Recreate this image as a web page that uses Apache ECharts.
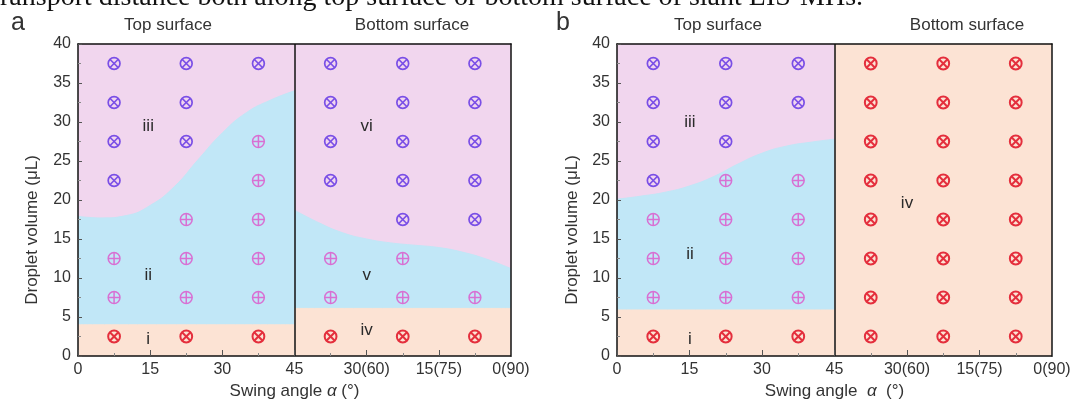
<!DOCTYPE html>
<html>
<head>
<meta charset="utf-8">
<script src="https://cdn.jsdelivr.net/npm/echarts@6/dist/echarts.min.js"></script>
<style>
  html, body { margin: 0; padding: 0; background: #ffffff; }
  #chart { width: 1080px; height: 405px; }
</style>
</head>
<body>
<div id="chart"></div>
<script>
// ---- axis labels ----
const xTickLabels = ['0', '15', '30', '45', '30(60)', '15(75)', '0(90)'];
const sideSplit = 45;          // swing angle where the top surface hands over to the bottom surface
const volumeMax = 40;

// ---- panel a: regime boundaries ----
const aTopUpperBoundary = [[0, 17.9], [5, 17.7], [10, 18.0], [15, 19.3], [20, 21.7],
                           [25, 25.2], [30, 28.6], [35, 31.2], [40, 32.8], [45, 34.0]];
const aTopLowerLevel = 4.0;
const aBottomUpperBoundary = [[45, 18.7], [50, 17.1], [55, 15.8], [60, 15.0], [65, 14.5],
                              [70, 14.2], [75, 13.9], [80, 13.3], [85, 12.4], [90, 11.2]];
const aBottomLowerLevel = 6.1;

// ---- panel a: observations ----
const aBlueCross = [[7.5, 37.5], [7.5, 32.5], [7.5, 27.5], [7.5, 22.5],
                    [22.5, 37.5], [22.5, 32.5], [22.5, 27.5],
                    [37.5, 37.5],
                    [52.5, 37.5], [52.5, 32.5], [52.5, 27.5], [52.5, 22.5],
                    [67.5, 37.5], [67.5, 32.5], [67.5, 27.5], [67.5, 22.5], [67.5, 17.5],
                    [82.5, 37.5], [82.5, 32.5], [82.5, 27.5], [82.5, 22.5], [82.5, 17.5]];
const aPinkPlus = [[7.5, 12.5], [7.5, 7.5],
                   [22.5, 17.5], [22.5, 12.5], [22.5, 7.5],
                   [37.5, 27.5], [37.5, 22.5], [37.5, 17.5], [37.5, 12.5], [37.5, 7.5],
                   [52.5, 12.5], [52.5, 7.5],
                   [67.5, 12.5], [67.5, 7.5],
                   [82.5, 7.5]];
const aRedCross = [[7.5, 2.5], [22.5, 2.5], [37.5, 2.5], [52.5, 2.5], [67.5, 2.5], [82.5, 2.5]];
const aRegionNames = [[14.6, 29.4, 'iii'], [14.6, 10.3, 'ii'], [14.6, 2.2, 'i'],
                      [60, 29.4, 'vi'], [60, 10.3, 'v'], [60, 3.3, 'iv']];

// ---- panel b: regime boundaries ----
const bTopUpperBoundary = [[0, 20.1], [5, 20.5], [10, 21.0], [15, 21.8], [20, 23.0],
                           [25, 24.6], [30, 26.0], [35, 26.9], [40, 27.4], [45, 27.8]];
const bTopLowerLevel = 5.9;

// ---- panel b: observations ----
const bBlueCross = [[7.5, 37.5], [7.5, 32.5], [7.5, 27.5], [7.5, 22.5],
                    [22.5, 37.5], [22.5, 32.5], [22.5, 27.5],
                    [37.5, 37.5], [37.5, 32.5]];
const bPinkPlus = [[7.5, 17.5], [7.5, 12.5], [7.5, 7.5],
                   [22.5, 22.5], [22.5, 17.5], [22.5, 12.5], [22.5, 7.5],
                   [37.5, 22.5], [37.5, 17.5], [37.5, 12.5], [37.5, 7.5]];
const bRedCross = [[7.5, 2.5], [22.5, 2.5], [37.5, 2.5],
                   [52.5, 37.5], [52.5, 32.5], [52.5, 27.5], [52.5, 22.5], [52.5, 17.5], [52.5, 12.5], [52.5, 7.5], [52.5, 2.5],
                   [67.5, 37.5], [67.5, 32.5], [67.5, 27.5], [67.5, 22.5], [67.5, 17.5], [67.5, 12.5], [67.5, 7.5], [67.5, 2.5],
                   [82.5, 37.5], [82.5, 32.5], [82.5, 27.5], [82.5, 22.5], [82.5, 17.5], [82.5, 12.5], [82.5, 7.5], [82.5, 2.5]];
const bRegionNames = [[15.1, 30, 'iii'], [15.1, 13, 'ii'], [15.1, 2.2, 'i'], [60, 19.6, 'iv']];

// ---- styling ----
const FONT = '"Liberation Sans", Arial, sans-serif';
const PINK_BG = '#f1d6ee';
const BLUE_BG = '#c1e7f7';
const PEACH_BG = '#fce3d4';
const BLUE_MARK = '#7a4fe6';
const PINK_MARK = '#d870d3';
const RED_MARK = '#e42f3d';
const INK = '#2a2a2a';

const chart = echarts.init(document.getElementById('chart'), null, { renderer: 'canvas' });

// filled band from y = 0 up to a boundary line
function band(g, pts, color, z) {
  return {
    type: 'line', xAxisIndex: g * 2, yAxisIndex: g * 2,
    data: pts, symbol: 'none', smooth: 0.5,
    lineStyle: { width: 1, color: color },
    areaStyle: { color: color, opacity: 1, origin: 'start' },
    silent: true, animation: false, z: z
  };
}
function level(x0, x1, y) { return [[x0, y], [x1, y]]; }

// circled cross / circled plus markers
function markers(g, pts, color, kind, lw) {
  return {
    type: 'custom', xAxisIndex: g * 2, yAxisIndex: g * 2,
    data: pts, encode: { x: 0, y: 1 }, clip: false, silent: true, animation: false, z: 6,
    renderItem: function (params, api) {
      const p = api.coord([api.value(0), api.value(1)]);
      const r = 5.9;
      const d = kind === 'cross' ? r * 0.72 : r;
      const st = { stroke: color, lineWidth: lw, fill: 'none' };
      const lines = kind === 'cross'
        ? [[-d, -d, d, d], [-d, d, d, -d]]
        : [[-d, 0, d, 0], [0, -d, 0, d]];
      return {
        type: 'group', x: p[0], y: p[1],
        children: [{ type: 'circle', shape: { cx: 0, cy: 0, r: r }, style: st }].concat(
          lines.map(l => ({ type: 'line', shape: { x1: l[0], y1: l[1], x2: l[2], y2: l[3] }, style: st })))
      };
    }
  };
}

function regionNames(g, items) {
  return {
    type: 'custom', xAxisIndex: g * 2, yAxisIndex: g * 2,
    data: items.map(d => [d[0], d[1]]), encode: { x: 0, y: 1 }, clip: false, silent: true, animation: false, z: 7,
    renderItem: function (params, api) {
      const p = api.coord([api.value(0), api.value(1)]);
      return {
        type: 'text', x: p[0], y: p[1],
        style: { text: items[params.dataIndex][2], fill: INK, font: '17px ' + FONT, align: 'center', verticalAlign: 'middle' }
      };
    }
  };
}

// divider between top and bottom surface
function divider(g) {
  return {
    type: 'line', xAxisIndex: g * 2, yAxisIndex: g * 2, data: [], silent: true, animation: false, z: 8,
    markLine: {
      symbol: 'none', silent: true, animation: false, label: { show: false },
      lineStyle: { color: '#111', width: 1.5, type: 'solid' },
      data: [{ xAxis: sideSplit }]
    }
  };
}

function xAxes(g, name) {
  return [{
    gridIndex: g, type: 'value', min: 0, max: 90, interval: 15, position: 'bottom', z: 10,
    axisLine: { show: true, onZero: false, lineStyle: { color: '#111', width: 1.5 } },
    axisTick: { show: true, inside: true, length: 6, lineStyle: { color: '#555', width: 1 } },
    minorTick: { show: true, splitNumber: 2, length: 3, lineStyle: { color: '#888', width: 1 } },
    splitLine: { show: false },
    axisLabel: { color: '#333', fontFamily: FONT, fontSize: 16, margin: 6, formatter: v => xTickLabels[Math.round(v / 15)] },
    name: name, nameLocation: 'middle', nameGap: 27,
    nameTextStyle: { color: '#333', fontFamily: FONT, fontSize: 17,
      rich: { i: { fontStyle: 'italic', fontFamily: FONT, fontSize: 17, color: '#333' } } }
  }, {
    gridIndex: g, type: 'value', min: 0, max: 90, position: 'top', z: 10,
    axisLine: { show: true, onZero: false, lineStyle: { color: '#111', width: 1.5 } },
    axisTick: { show: false }, axisLabel: { show: false }, splitLine: { show: false }
  }];
}
function yAxes(g) {
  return [{
    gridIndex: g, type: 'value', min: 0, max: volumeMax, interval: 5, position: 'left', z: 10,
    axisLine: { show: true, onZero: false, lineStyle: { color: '#111', width: 1.5 } },
    axisTick: { show: true, inside: true, length: 4, lineStyle: { color: '#555', width: 1 } },
    minorTick: { show: true, splitNumber: 2, length: 3, lineStyle: { color: '#888', width: 1 } },
    splitLine: { show: false },
    axisLabel: { color: '#333', fontFamily: FONT, fontSize: 16, margin: 7 }
  }, {
    gridIndex: g, type: 'value', min: 0, max: volumeMax, position: 'right', z: 10,
    axisLine: { show: true, onZero: false, lineStyle: { color: '#111', width: 1.5 } },
    axisTick: { show: false }, axisLabel: { show: false }, splitLine: { show: false }
  }];
}

function plainText(x, y, text, size, extra) {
  return Object.assign({
    type: 'text', x: x, y: y, silent: true, z: 20,
    style: { text: text, fill: '#333', font: size + 'px ' + FONT, align: 'center', verticalAlign: 'middle' }
  }, extra || {});
}

const option = {
  backgroundColor: '#ffffff',
  animation: false,
  grid: [
    { left: 78, top: 44, width: 433, height: 315 },
    { left: 617, top: 44, width: 435, height: 315 }
  ],
  xAxis: xAxes(0, 'Swing angle {i|α} (°)').concat(xAxes(1, 'Swing angle  {i|α}  (°)')),
  yAxis: yAxes(0).concat(yAxes(1)),
  series: [
    // panel a, top surface
    band(0, level(0, sideSplit, volumeMax), PINK_BG, 1),
    band(0, aTopUpperBoundary, BLUE_BG, 2),
    band(0, level(0, sideSplit, aTopLowerLevel), PEACH_BG, 3),
    // panel a, bottom surface
    band(0, level(sideSplit, 90, volumeMax), PINK_BG, 1),
    band(0, aBottomUpperBoundary, BLUE_BG, 2),
    band(0, level(sideSplit, 90, aBottomLowerLevel), PEACH_BG, 3),
    markers(0, aBlueCross, BLUE_MARK, 'cross', 1.7),
    markers(0, aPinkPlus, PINK_MARK, 'plus', 1.5),
    markers(0, aRedCross, RED_MARK, 'cross', 2.0),
    regionNames(0, aRegionNames),
    divider(0),
    // panel b, top surface
    band(1, level(0, sideSplit, volumeMax), PINK_BG, 1),
    band(1, bTopUpperBoundary, BLUE_BG, 2),
    band(1, level(0, sideSplit, bTopLowerLevel), PEACH_BG, 3),
    // panel b, bottom surface
    band(1, level(sideSplit, 90, volumeMax), PEACH_BG, 1),
    markers(1, bBlueCross, BLUE_MARK, 'cross', 1.7),
    markers(1, bPinkPlus, PINK_MARK, 'plus', 1.5),
    markers(1, bRedCross, RED_MARK, 'cross', 2.0),
    regionNames(1, bRegionNames),
    divider(1)
  ],
  graphic: [
    { type: 'text', x: 0, y: 12, silent: true,
      style: { text: 'ransport distance both along top surface or bottom surface of slant LIS-MHs.',
               fill: '#111', font: '28px "Liberation Serif", "Times New Roman", serif', align: 'left', verticalAlign: 'bottom' } },
    plainText(18, 23, 'a', 25, {}),
    plainText(563, 23, 'b', 25, {}),
    plainText(168, 25, 'Top surface', 17),
    plainText(412, 25, 'Bottom surface', 17),
    plainText(718, 25, 'Top surface', 17),
    plainText(967, 25, 'Bottom surface', 17),
    plainText(32, 230, 'Droplet volume (μL)', 17, { rotation: Math.PI / 2 }),
    plainText(572, 230, 'Droplet volume (μL)', 17, { rotation: Math.PI / 2 })
  ]
};
chart.setOption(option);
</script>
</body>
</html>
